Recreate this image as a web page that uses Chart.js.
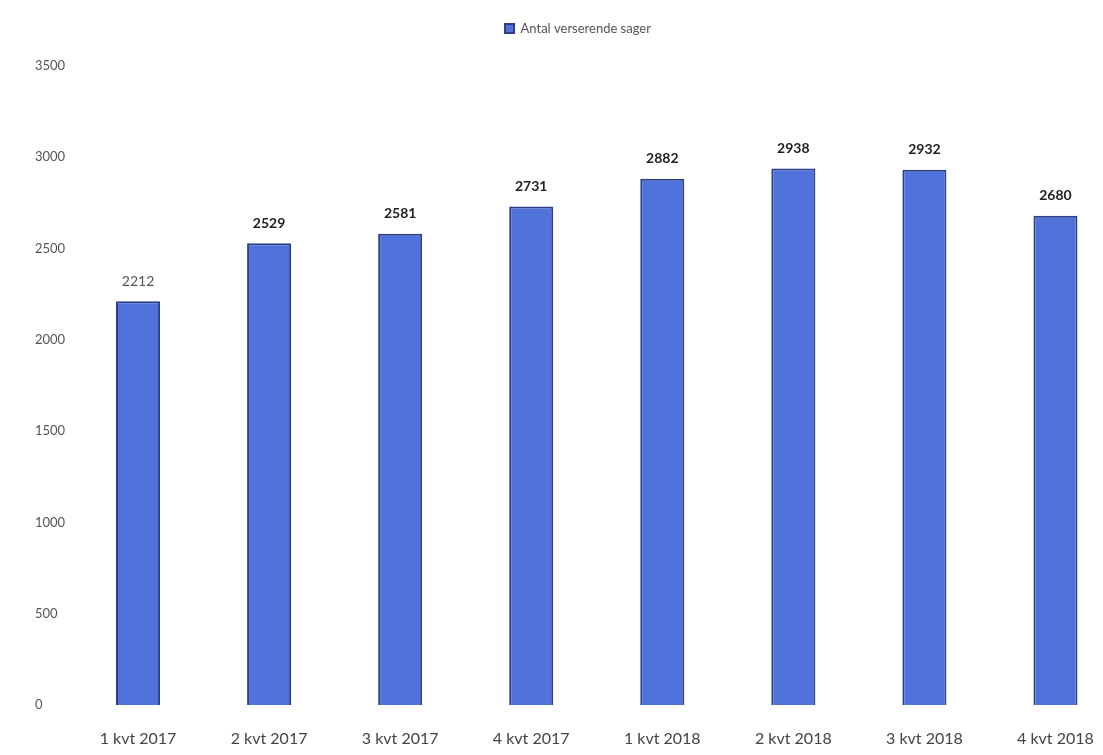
<!DOCTYPE html>
<html>
<head>
<meta charset="utf-8">
<script src="https://cdn.jsdelivr.net/npm/chart.js@4"></script>
<style>
  html, body { margin: 0; padding: 0; background: #fff; overflow: hidden; }
  #wrap { width: 1125px; height: 755px; }
</style>
</head>
<body>
<div id="wrap"><canvas id="c"></canvas></div>
<script>
const categories = ["1 kvt 2017", "2 kvt 2017", "3 kvt 2017", "4 kvt 2017", "1 kvt 2018", "2 kvt 2018", "3 kvt 2018", "4 kvt 2018"];
const seriesName = "Antal verserende sager";
const values = [2212, 2529, 2581, 2731, 2882, 2938, 2932, 2680];
const yTicks = [0, 500, 1000, 1500, 2000, 2500, 3000, 3500];

const labelPlugin = {
  id: 'valueLabels',
  afterDatasetsDraw(chart) {
    const ctx = chart.ctx;
    const meta = chart.getDatasetMeta(0);
    ctx.save();
    ctx.textAlign = 'center';
    ctx.textBaseline = 'middle';
    meta.data.forEach((bar, i) => {
      ctx.font = (i === 0 ? 'normal ' : 'bold ') + '14px Lato';
      ctx.fillStyle = i === 0 ? '#555' : '#222';
      ctx.fillText(String(values[i]), bar.x, bar.y - 20);
    });
    ctx.restore();
  }
};

const legendSpace = {
  id: 'legendSpace',
  afterInit(chart) {
    const orig = chart.legend.fit;
    chart.legend.fit = function () {
      orig.call(this);
      this.height += 21;
    };
  }
};

new Chart(document.getElementById('c'), {
  type: 'bar',
  data: {
    labels: categories,
    datasets: [{
      label: seriesName,
      data: values,
      backgroundColor: '#4f73db',
      borderColor: '#2d3f8c',
      borderWidth: 2,
      categoryPercentage: 1,
      barPercentage: 0.336
    }]
  },
  options: {
    responsive: true,
    maintainAspectRatio: false,
    animation: false,
    layout: { padding: { top: 8, left: 35, right: 4, bottom: 4 } },
    plugins: {
      legend: {
        display: true,
        position: 'top',
        labels: {
          boxWidth: 9,
          boxHeight: 9,
          color: '#555',
          font: { family: 'Lato', size: 13 },
          padding: 14
        }
      },
      tooltip: { enabled: false }
    },
    scales: {
      x: {
        afterFit(scale) { scale.height = 46; },
        grid: { display: false, drawTicks: false },
        border: { display: false },
        ticks: {
          color: '#444',
          font: { family: 'Lato', size: 16 },
          padding: 24,
          maxRotation: 0
        }
      },
      y: {
        min: 0,
        max: 3500,
        afterFit(scale) { scale.width = 37.5; },
        afterBuildTicks(scale) { scale.ticks = yTicks.map(v => ({ value: v })); },
        grid: { display: false, drawTicks: false },
        border: { display: false },
        ticks: {
          color: '#555',
          crossAlign: 'far',
          padding: 0,
          font: { family: 'Lato', size: 13 },
          callback: (v) => String(v)
        }
      }
    }
  },
  plugins: [labelPlugin, legendSpace]
});
</script>
</body>
</html>
